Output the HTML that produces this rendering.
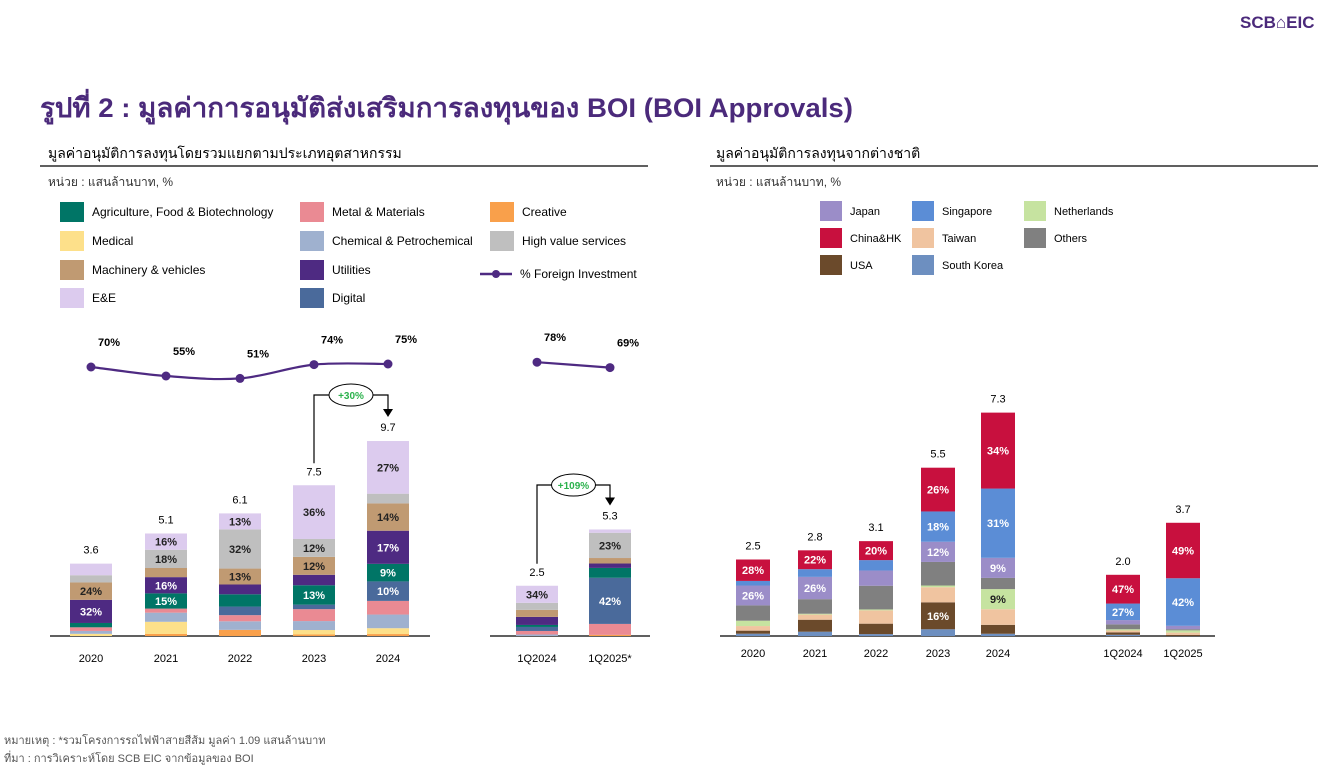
<!DOCTYPE html>
<html><head><meta charset="utf-8">
<style>
body{margin:0;background:#fff;width:1332px;height:775px;overflow:hidden;font-family:"Liberation Sans","DejaVu Sans",sans-serif;}
svg text{font-family:"Liberation Sans","DejaVu Sans",sans-serif;}
</style></head>
<body>
<svg id="c" width="1332" height="775" xmlns="http://www.w3.org/2000/svg">
<text x="1240" y="28" font-size="17" font-weight="bold" fill="#4b2a7b">SCB⌂EIC</text>
<text x="40" y="117" font-size="27" font-weight="bold" fill="#4b2a7b" textLength="813" lengthAdjust="spacingAndGlyphs">รูปที่ 2 : มูลค่าการอนุมัติส่งเสริมการลงทุนของ BOI (BOI Approvals)</text>
<text x="48" y="158" font-size="14" fill="#000">มูลค่าอนุมัติการลงทุนโดยรวมแยกตามประเภทอุตสาหกรรม</text>
<line x1="40" y1="166" x2="648" y2="166" stroke="#000" stroke-width="1.3"/>
<text x="48" y="186" font-size="12" fill="#333">หน่วย : แสนล้านบาท, %</text>
<text x="716" y="158" font-size="14" fill="#000">มูลค่าอนุมัติการลงทุนจากต่างชาติ</text>
<line x1="710" y1="166" x2="1318" y2="166" stroke="#000" stroke-width="1.3"/>
<text x="716" y="186" font-size="12" fill="#333">หน่วย : แสนล้านบาท, %</text>
<text x="4" y="744" font-size="11" fill="#555">หมายเหตุ : *รวมโครงการรถไฟฟ้าสายสีส้ม มูลค่า 1.09 แสนล้านบาท</text>
<text x="4" y="762" font-size="11" fill="#555">ที่มา : การวิเคราะห์โดย SCB EIC จากข้อมูลของ BOI</text>
<g id="L"></g><g id="R"></g>
</svg>
<script>
// ===== Left chart data =====
const leftCats = ["2020","2021","2022","2023","2024","1Q2024","1Q2025*"];
const leftTotals = [3.6,5.1,6.1,7.5,9.7,2.5,5.3];
const leftColors = ["#f9a04b","#fde08a","#9fb1cf","#ea8a93","#4a6a9b","#007566","#4e2a82","#c09a72","#bfbfbf","#dccbee"];
const sCreative = [0,2,5,1,1,0,1];
const sMedical = [3,12,0,3,3,0,0];
const sChemical = [4,9,7,6,7,3,0];
const sMetal = [5,4,5,8,7,7,10];
const sDigital = [0,0,7,3,10,8,42];
const sAgri = [6,15,10,13,9,4,9];
const sUtilities = [32,16,8,7,17,16,4];
const sMachinery = [24,9,13,12,14,14,5];
const sHighValue = [10,18,32,12,5,14,23];
const sEE = [16,16,13,36,27,34,3];
const foreignPct = [70,55,51,74,75,78,69];
// ===== Right chart data =====
const rightCats = ["2020","2021","2022","2023","2024","1Q2024","1Q2025"];
const rightTotals = [2.5,2.8,3.1,5.5,7.3,2.0,3.7];
const rightColors = ["#6d8fc0","#6b4a2b","#f0c4a0","#808080","#c6e3a0","#9b8dc8","#5b8dd6","#c8103e"];
const rSK = [3,5,2,4,1,2,0];
const rUSA = [4,14,11,16,4,4,1];
const rTaiwan = [6,6,14,9,7,3,2];
const rOthers = [20,17,25,14,5,8,1];
const rNeth = [7,1,1,1,9,2,2];
const rJapan = [26,26,16,12,9,7,3];
const rSingapore = [6,9,11,18,31,27,42];
const rChina = [28,22,20,26,34,47,49];

const NS="http://www.w3.org/2000/svg";
function el(t,a,p){const e=document.createElementNS(NS,t);for(const k in a)e.setAttribute(k,a[k]);p.appendChild(e);return e;}
function txt(x,y,s,size,fill,anchor,p,w){const e=el('text',{x:x,y:y,'font-size':size,fill:fill,'text-anchor':anchor||'middle'},p);if(w)e.setAttribute('font-weight',w);e.textContent=s;return e;}

const L=document.getElementById('L'),R=document.getElementById('R');
const lX=i=>[91,166,240,314,388,537,610][i];
const lBase=636, lScale=20.1;
const lY=v=>lBase-v*lScale;
const leftSeries=[sCreative,sMedical,sChemical,sMetal,sDigital,sAgri,sUtilities,sMachinery,sHighValue,sEE];
const darkL=[4,5,6];
let ax=el('line',{x1:50,y1:lBase,x2:430,y2:lBase,stroke:'#000','stroke-width':1.2},L);

ax=el('line',{x1:490,y1:lBase,x2:650,y2:lBase,stroke:'#000','stroke-width':1.2},L);

leftCats.forEach((c,i)=>{
  let sum=0;leftSeries.forEach(s=>sum+=s[i]);
  let acc=0;
  leftSeries.forEach((s,k)=>{
    if(!s[i])return;
    const v0=leftTotals[i]*acc/sum, v1=leftTotals[i]*(acc+s[i])/sum;acc+=s[i];
    const r=el('rect',{x:lX(i)-21,y:lY(v1),width:42,height:lY(v0)-lY(v1),fill:leftColors[k]},L);
    
    if(lY(v0)-lY(v1)>=14){const t=txt(lX(i),(lY(v0)+lY(v1))/2+4,s[i]+'%',11,darkL.includes(k)?'#fff':'#222','middle',L,'bold');
      }
  });
  let t=txt(lX(i),lY(leftTotals[i])-10,leftTotals[i].toFixed(1),11,'#000','middle',L);
  
  t=txt(lX(i),662,c,11,'#000','middle',L);
  
});
// foreign investment line (smooth)
const fY=v=>409-v*0.6;
function smooth(idx){
  const P=idx.map(i=>[lX(i),fY(foreignPct[i])]);
  let d='M'+P[0][0]+' '+P[0][1];
  for(let j=0;j<P.length-1;j++){
    const p0=P[j-1]||P[j],p1=P[j],p2=P[j+1],p3=P[j+2]||p2;
    const c1=[p1[0]+(p2[0]-p0[0])/6,p1[1]+(p2[1]-p0[1])/6],c2=[p2[0]-(p3[0]-p1[0])/6,p2[1]-(p3[1]-p1[1])/6];
    d+='C'+c1[0]+' '+c1[1]+' '+c2[0]+' '+c2[1]+' '+p2[0]+' '+p2[1];
  }
  return d;
}
let ln=el('path',{d:smooth([0,1,2,3,4]),stroke:'#4e2a82','stroke-width':2.2,fill:'none'},L);

ln=el('path',{d:smooth([5,6]),stroke:'#4e2a82','stroke-width':2.2,fill:'none'},L);

foreignPct.forEach((v,i)=>{
  const p=el('circle',{cx:lX(i),cy:fY(v),r:4.5,fill:'#4e2a82'},L);
  
  const t=txt(lX(i)+18,fY(v)-21,v+'%',11,'#000','middle',L,'bold');
  
});
function callout(i0,i1,yTop,label,name){
  const g=el('g',{},L);
  const x0=lX(i0),x1=lX(i1),mx=(x0+x1)/2;
  el('path',{d:'M'+x0+' '+(lY(leftTotals[i0])-22)+'V'+yTop+'H'+x1+'V'+(lY(leftTotals[i1])-26),stroke:'#000',fill:'none','stroke-width':1.2},g);
  el('path',{d:'M'+(x1-5)+' '+(lY(leftTotals[i1])-32)+'L'+(x1+5)+' '+(lY(leftTotals[i1])-32)+'L'+x1+' '+(lY(leftTotals[i1])-24)+'Z',fill:'#000'},g);
  el('ellipse',{cx:mx,cy:yTop,rx:22,ry:11,fill:'#fff',stroke:'#000'},g);
  txt(mx,yTop+4,label,10,'#2bb24c','middle',g,'bold');
}
callout(3,4,395,'+30%','growth-callout-2024');
callout(5,6,485,'+109%','growth-callout-1q2025');
const legL=[["Agriculture, Food & Biotechnology",5,60,212],["Metal & Materials",3,300,212],["Creative",0,490,212],
["Medical",1,60,241],["Chemical & Petrochemical",2,300,241],["High value services",8,490,241],
["Machinery & vehicles",7,60,270],["Utilities",6,300,270],["E&E",9,60,298],["Digital",4,300,298]];
legL.forEach(e=>{
  const g=el('g',{},L);
  el('rect',{x:e[2],y:e[3]-10,width:24,height:20,fill:leftColors[e[1]]},g);
  txt(e[2]+32,e[3]+4,e[0],12,'#000','start',g);
});
let lg=el('g',{},L);
el('line',{x1:480,y1:274,x2:512,y2:274,stroke:'#4e2a82','stroke-width':2.5},lg);
el('circle',{cx:496,cy:274,r:4,fill:'#4e2a82'},lg);
txt(520,278,'% Foreign Investment',12,'#000','start',lg);

const rX=i=>[753,815,876,938,998,1123,1183][i];
const rBase=636,rScale=30.6,rY=v=>rBase-v*rScale;
const rightSeries=[rSK,rUSA,rTaiwan,rNeth,rOthers,rJapan,rSingapore,rChina];
const rightCol=[rightColors[0],rightColors[1],rightColors[2],rightColors[4],rightColors[3],rightColors[5],rightColors[6],rightColors[7]];
const lightR=[2,3];
ax=el('line',{x1:720,y1:rBase,x2:1215,y2:rBase,stroke:'#000','stroke-width':1.2},R);

rightCats.forEach((c,i)=>{
  let sum=0;rightSeries.forEach(s=>sum+=s[i]);let acc=0;
  rightSeries.forEach((s,k)=>{
    if(!s[i])return;
    const v0=rightTotals[i]*acc/sum,v1=rightTotals[i]*(acc+s[i])/sum;acc+=s[i];
    const r=el('rect',{x:rX(i)-17,y:rY(v1),width:34,height:rY(v0)-rY(v1),fill:rightCol[k]},R);
    
    if(rY(v0)-rY(v1)>=16&&k!==4){const t=txt(rX(i),(rY(v0)+rY(v1))/2+4,s[i]+'%',11,lightR.includes(k)?'#222':'#fff','middle',R,'bold');
      }
  });
  let t=txt(rX(i),rY(rightTotals[i])-10,rightTotals[i].toFixed(1),11,'#000','middle',R);
  
  t=txt(rX(i),657,c,11,'#000','middle',R);
  
});
const legR=[["Japan",5,820,211],["Singapore",6,912,211],["Netherlands",4,1024,211],
["China&HK",7,820,238],["Taiwan",2,912,238],["Others",3,1024,238],["USA",1,820,265],["South Korea",0,912,265]];
legR.forEach(e=>{
  const g=el('g',{},R);
  el('rect',{x:e[2],y:e[3]-10,width:22,height:20,fill:rightColors[e[1]]},g);
  txt(e[2]+30,e[3]+4,e[0],11,'#000','start',g);
});
</script>
</body></html>
